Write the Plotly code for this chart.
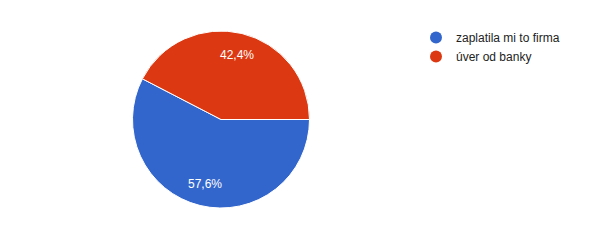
import math
import plotly.graph_objects as go

labels = ["zaplatila mi to firma", "úver od banky"]
values = [57.6, 42.4]
colors = ["#3366cc", "#dc3912"]

W, H = 601, 248
X0, X1, Y0, Y1 = 132.5, 309.5, 31, 208  # pixel box of the pie
fig = go.Figure()
fig.add_trace(go.Pie(
    labels=labels, values=values, sort=False, direction="clockwise", rotation=90,
    marker=dict(colors=colors, line=dict(color="white", width=1)),
    textinfo="none",
    showlegend=False,
    domain=dict(x=[X0 / W, X1 / W], y=[(H - Y1) / H, (H - Y0) / H]),
    hoverinfo="skip",
))
for lab, col in zip(labels, colors):
    fig.add_trace(go.Scatter(x=[None], y=[None], mode="markers", name=lab,
                             marker=dict(color=col, size=12, symbol="circle")))

# percentage labels placed like Google charts (at ~0.75 of radius, slice mid-angle)
total = sum(values)
cx, cy = (X0 + X1) / 2, (Y0 + Y1) / 2
R = min(X1 - X0, Y1 - Y0) / 2
start = 90.0
for v in values:
    mid = start + 360 * v / total / 2
    start += 360 * v / total
    px = cx + 0.75 * R * math.sin(math.radians(mid))
    py = cy - 0.75 * R * math.cos(math.radians(mid))
    txt = f"{100 * v / total:.1f}%".replace(".", ",")
    fig.add_annotation(x=px / W, y=1 - py / H, xref="paper", yref="paper", text=txt,
                       xanchor="center", yanchor="middle",
                       showarrow=False, font=dict(color="white", size=12, family="Arial"))

fig.update_layout(
    width=W, height=H, margin=dict(l=0, r=0, t=0, b=0),
    paper_bgcolor="white", plot_bgcolor="white",
    separators=", ",
    xaxis=dict(visible=False), yaxis=dict(visible=False),
    legend=dict(x=416 / W, y=1 - 23 / H, xanchor="left", yanchor="top",
                font=dict(family="Arial", size=12, color="#222222"),
                itemwidth=30, tracegroupgap=0, bgcolor="rgba(0,0,0,0)"),
    font=dict(family="Arial"),
)
fig.write_html("out.html")
